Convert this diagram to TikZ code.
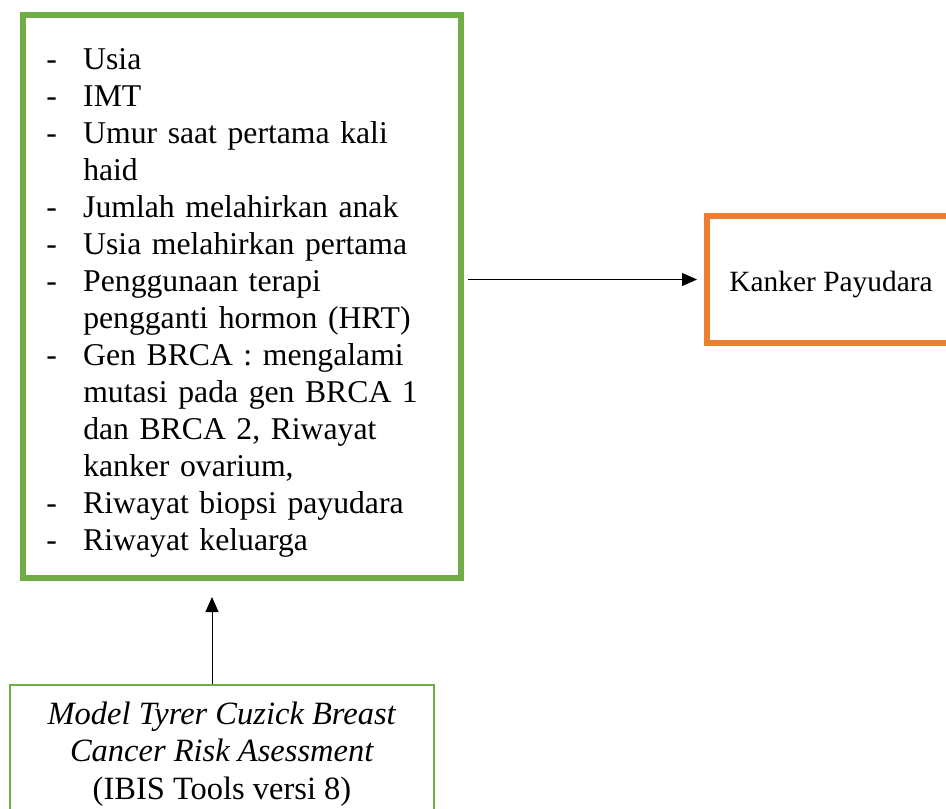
\documentclass[tikz,border=0pt]{standalone}
\usepackage{fontspec}
\setmainfont{Liberation Serif}
\usepackage{xcolor}
\usetikzlibrary{arrows.meta,positioning}
\definecolor{boxgreen}{HTML}{70AD47}
\definecolor{boxorange}{HTML}{ED7D31}
\newcommand{\riskitem}[1]{\makebox[37pt][l]{-}#1}
\newcommand{\riskcont}[1]{\hspace*{37pt}#1}

\begin{document}
\begin{tikzpicture}[
    x=1pt, y=1pt,
    factorbox/.style={rectangle, draw=boxgreen, line width=6pt, minimum width=437.5pt, minimum height=563.5pt, text width=391pt, align=left, inner sep=0pt, font=\fontsize{31.7}{37}\selectfont},
    outcomebox/.style={rectangle, draw=boxorange, line width=6pt, minimum width=248pt, minimum height=127pt, align=center, inner sep=0pt, font=\fontsize{29.4}{35}\selectfont},
    modelbox/.style={rectangle, draw=boxgreen, line width=2pt, minimum width=424pt, minimum height=138pt, align=center, inner sep=0pt, font=\fontsize{32.5}{37.5}\selectfont},
    arrow/.style={-{Triangle[length=15pt,width=13pt]}, line width=1pt}
]
\useasboundingbox (0,0) rectangle (946,-809);
\node[factorbox] (factors) at (241.75,-296.25) {%
\rule{0pt}{35pt}\riskitem{Usia}\\
\riskitem{IMT}\\
\riskitem{Umur saat pertama kali}\\
\riskcont{haid}\\
\riskitem{Jumlah melahirkan anak}\\
\riskitem{Usia melahirkan pertama}\\
\riskitem{Penggunaan terapi}\\
\riskcont{pengganti hormon (HRT)}\\
\riskitem{Gen BRCA : mengalami}\\
\riskcont{mutasi pada gen BRCA 1}\\
\riskcont{dan BRCA 2, Riwayat}\\
\riskcont{kanker ovarium,}\\
\riskitem{Riwayat biopsi payudara}\\
\riskitem{Riwayat keluarga}};
\node[outcomebox] (cancer) at (831,-279.5) {\rule{0pt}{31pt}Kanker Payudara};
\node[modelbox] (model) at (222,-754) {\textit{Model Tyrer Cuzick Breast}\\
\textit{Cancer Risk Asessment}\\
(IBIS Tools versi 8)};

\draw[arrow, shorten <=4pt, shorten >=7pt] (factors.east |- cancer.west) -- (cancer.west);
\draw[arrow, shorten >=16pt] ([xshift=-10pt]model.north) -- ([xshift=-10pt]model.north |- factors.south);
\end{tikzpicture}
\end{document}
